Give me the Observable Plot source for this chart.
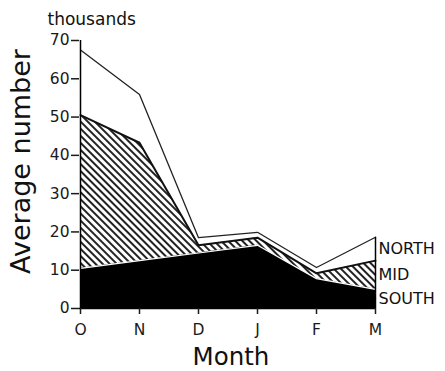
<!DOCTYPE html>
<html><head><meta charset="utf-8">
<script src="https://cdn.jsdelivr.net/npm/d3@7"></script>
<script src="https://cdn.jsdelivr.net/npm/@observablehq/plot@0.6"></script>
<style>body{margin:0;background:#fff;} svg{font-family:"DejaVu Sans",sans-serif;}</style>
</head><body><div id="chart"></div>
<script>
const months = ["O","N","D","J","F","M"];
const south = [10.5, 12.5, 14.5, 16.5, 7.8, 5.0];
const mid   = [40.0, 30.8, 2.0, 2.0, 1.4, 7.5];
const north = [17.0, 12.6, 2.0, 1.4, 1.5, 6.1];
const layers = ["SOUTH","MID","NORTH"];
const yTicks = [0,10,20,30,40,50,60,70];

const rows = months.map((m,i)=>{
  const s=south[i], md=s+mid[i], t=md+north[i];
  return {m, s0:0, s1:s, m0:s, m1:md, n0:md, n1:t};
});
const last = rows[rows.length-1];
const labels = [
  {name:layers[2], y:(last.n0+last.n1)/2},
  {name:layers[1], y:(last.m0+last.m1)/2},
  {name:layers[0], y:(last.s0+last.s1)/2}
];

const plot = Plot.plot({
  width:445, height:371,
  marginLeft:79, marginRight:69, marginTop:40, marginBottom:63,
  x:{type:"point", domain:months, padding:0},
  y:{domain:[0,70]},
  style:{fontFamily:"DejaVu Sans, sans-serif", background:"#fff"},
  marks:[
    Plot.areaY(rows,{x:"m", y1:"n0", y2:"n1", fill:"#fff"}),
    Plot.areaY(rows,{x:"m", y1:"m0", y2:"m1", fill:"url(#hatch)"}),
    Plot.areaY(rows,{x:"m", y1:"s0", y2:"s1", fill:"#000"}),
    Plot.lineY(rows,{x:"m", y:"s1", stroke:"#fff", strokeWidth:1.2}),
    Plot.lineY(rows,{x:"m", y:"m1", stroke:"#111", strokeWidth:2}),
    Plot.lineY(rows,{x:"m", y:"n1", stroke:"#222", strokeWidth:1.3}),
    Plot.ruleX([months[0]],{y1:0, y2:70, stroke:"#000", strokeWidth:1.5}),
    Plot.ruleX([months[months.length-1]],{y1:0, y2:last.n1, stroke:"#000", strokeWidth:1.5}),
    Plot.ruleY([0],{stroke:"#000", strokeWidth:1.5}),
    Plot.axisY({ticks:yTicks, tickSize:8, tickFormat:()=>"", color:"#1a1a1a", strokeWidth:1.5, label:null}),
    Plot.axisX({tickSize:6, tickFormat:()=>"", color:"#1a1a1a", strokeWidth:1.5, label:null}),
    Plot.text(yTicks,{x:()=>months[0], y:d=>d, dx:-11, text:d=>String(d), textAnchor:"end", lineAnchor:"middle", fontSize:15.5, fill:"#1a1a1a"}),
    Plot.text(months,{x:d=>d, y:()=>0, dy:22, text:d=>d, textAnchor:"middle", lineAnchor:"middle", fontSize:15.5, fill:"#1a1a1a"}),
    Plot.text(labels,{x:()=>months[months.length-1], y:"y", text:"name", textAnchor:"start", dx:3, fontSize:16, fill:"#111"}),
    Plot.text(["thousands"],{frameAnchor:"top-left", dx:-32, dy:-21, text:d=>d, textAnchor:"start", lineAnchor:"middle", fontSize:17, fill:"#111"}),
    Plot.text(["Average number"],{frameAnchor:"left", dx:-58, dy:-13, text:d=>d, textAnchor:"middle", lineAnchor:"middle", rotate:-90, fontSize:27, fill:"#111"}),
    Plot.text(["Month"],{frameAnchor:"bottom", dx:3, dy:49, text:d=>d, textAnchor:"middle", lineAnchor:"middle", fontSize:24.5, fill:"#111"})
  ]
});

// hatch pattern
const ns="http://www.w3.org/2000/svg";
const defs=document.createElementNS(ns,"defs");
const pat=document.createElementNS(ns,"pattern");
pat.setAttribute("id","hatch");
pat.setAttribute("patternUnits","userSpaceOnUse");
pat.setAttribute("width","5"); pat.setAttribute("height","5");
pat.setAttribute("patternTransform","rotate(-45)");
const bg=document.createElementNS(ns,"rect");
bg.setAttribute("width","5"); bg.setAttribute("height","5"); bg.setAttribute("fill","#fff");
const ln=document.createElementNS(ns,"rect");
ln.setAttribute("x","0"); ln.setAttribute("y","0"); ln.setAttribute("width","2"); ln.setAttribute("height","5"); ln.setAttribute("fill","#222");
pat.appendChild(bg); pat.appendChild(ln); defs.appendChild(pat);
plot.insertBefore(defs, plot.firstChild);
document.getElementById("chart").appendChild(plot);
</script>
</body></html>
